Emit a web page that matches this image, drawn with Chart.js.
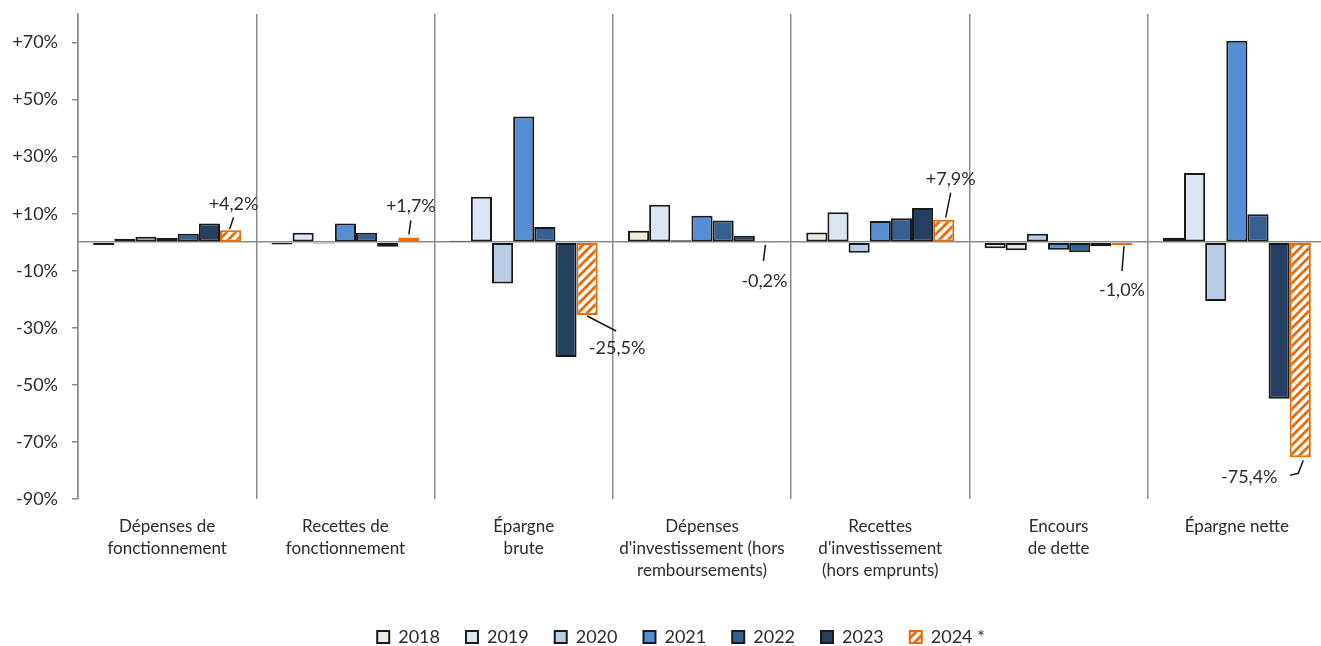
<!DOCTYPE html>
<html>
<head>
<meta charset="utf-8">
<script src="https://cdn.jsdelivr.net/npm/chart.js@4/dist/chart.umd.min.js"></script>
<style>
  html, body { margin: 0; padding: 0; background: #fff; overflow: hidden; }
  #wrap { width: 1321px; height: 646px; overflow: hidden; }
</style>
</head>
<body>
<div id="wrap"><canvas id="evoChart" width="1326" height="656"></canvas></div>
<script>
// categories and yearly changes (%)
var categories = [
    ['Dépenses de', 'fonctionnement'],
    ['Recettes de', 'fonctionnement'],
    ['Épargne', 'brute'],
    ['Dépenses', "d'investissement (hors", 'remboursements)'],
    ['Recettes', "d'investissement", '(hors emprunts)'],
    ['Encours', 'de dette'],
    ['Épargne nette']
];
var years = ['2018', '2019', '2020', '2021', '2022', '2023', '2024 *'];

var v2018 = [-1.0, -0.8, 0.5, 4.0, 3.4, -2.1, 1.6];
var v2019 = [1.2, 3.3, 15.9, 13.1, 10.5, -2.8, 24.3];
var v2020 = [1.9, -0.4, -14.5, 0.7, -3.7, 3.0, -20.6];
var v2021 = [1.5, 6.6, 44.1, 9.3, 7.4, -2.6, 70.6];
var v2022 = [3.0, 3.3, 5.3, 7.6, 8.4, -3.5, 9.8];
var v2023 = [6.6, -1.6, -40.2, 2.3, 12.0, -1.4, -54.9];
var v2024 = [4.2, 1.7, -25.5, -0.2, 7.9, -1.0, -75.4];

var yTicks = [-90, -70, -50, -30, -10, 0, 10, 30, 50, 70];

var textColor = '#2b2b2b';
var gridColor = '#8c8c8c';
var orange = '#E46C0A';

function hatch() {
    var n = 9;
    var c = document.createElement('canvas');
    c.width = n; c.height = n;
    var x = c.getContext('2d');
    x.fillStyle = '#ffffff';
    x.fillRect(0, 0, n, n);
    x.strokeStyle = orange;
    x.lineWidth = 2.8;
    x.beginPath();
    x.moveTo(-2, n + 2); x.lineTo(n + 2, -2);
    x.moveTo(-2, 2); x.lineTo(2, -2);
    x.moveTo(n - 2, n + 2); x.lineTo(n + 2, n - 2);
    x.stroke();
    return x.createPattern(c, 'repeat');
}

function fmt(v) {
    return (v > 0 ? '+' : '') + v.toFixed(1).replace('.', ',') + '%';
}

// leader lines + labels for the 2024 bars (offsets from bar end)
var labelPlugin = {
    id: 'labels2024',
    afterLayout: function (chart) {
        var lg = chart.legend;
        if (lg) { lg.left += 18; lg.right += 18; }
    },
    afterDatasetsDraw: function (chart, args, opts) {
        var ctx = chart.ctx;
        var meta = chart.getDatasetMeta(6);
        ctx.save();
        ctx.font = '18px Lato';
        ctx.fillStyle = textColor;
        ctx.strokeStyle = '#1a1a1a';
        ctx.lineWidth = 1.5;
        ctx.textAlign = 'center';
        ctx.textBaseline = 'middle';
        meta.data.forEach(function (bar, i) {
            var o = opts.spots[i];
            ctx.beginPath();
            o.line.forEach(function (p, k) {
                if (k === 0) ctx.moveTo(bar.x + p[0], bar.y + p[1]);
                else ctx.lineTo(bar.x + p[0], bar.y + p[1]);
            });
            ctx.stroke();
            ctx.fillText(fmt(v2024[i]), bar.x + o.text[0], bar.y + o.text[1]);
        });
        ctx.restore();
    }
};

function createChart() {
    var el = document.getElementById('evoChart').getContext('2d');
    var pat = hatch();

    var fills = ['#EEECE1', '#DCE6F2', '#B9CDE5', '#558ED5', '#376092', '#243F60', pat];
    var series = [v2018, v2019, v2020, v2021, v2022, v2023, v2024];

    var datasets = series.map(function (d, i) {
        return {
            label: years[i],
            data: d,
            backgroundColor: fills[i],
            borderColor: i === 6 ? orange : '#1a1a1a',
            borderWidth: 2,
            borderSkipped: false,
            categoryPercentage: 0.83,
            barPercentage: 1.0
        };
    });

    new Chart(el, {
        type: 'bar',
        data: { labels: categories, datasets: datasets },
        options: {
            responsive: false,
            animation: false,
            devicePixelRatio: 1,
            layout: { padding: { top: 14, right: 0, bottom: 0, left: 0 } },
            scales: {
                x: {
                    grid: { offset: true, color: gridColor, lineWidth: 1.5, drawTicks: false },
                    border: { display: false },
                    ticks: {
                        color: textColor,
                        font: { family: 'Lato', size: 17, lineHeight: 1.3 },
                        maxRotation: 0,
                        autoSkip: false,
                        padding: 16
                    },
                    afterFit: function (s) { s.height = 103; }
                },
                y: {
                    min: -90,
                    max: 80,
                    afterBuildTicks: function (s) {
                        s.ticks = yTicks.map(function (v) { return { value: v }; });
                    },
                    grid: {
                        color: function (c) { return c.tick && c.tick.value === 0 ? gridColor : 'rgba(0,0,0,0)'; },
                        tickColor: function (c) { return c.tick && c.tick.value === 0 ? 'rgba(0,0,0,0)' : gridColor; },
                        lineWidth: 1.5,
                        tickLength: 6
                    },
                    border: { display: true, color: gridColor, width: 1.5 },
                    ticks: {
                        color: textColor,
                        font: { family: 'Lato', size: 18 },
                        padding: 14,
                        callback: function (v) {
                            if (v === 0) return '';
                            return (v > 0 ? '+' : '') + v + '%';
                        }
                    },
                    afterFit: function (s) {
                        s.width = 78;
                        s.paddingTop = 0;
                        s.paddingBottom = 0;
                    }
                }
            },
            plugins: {
                legend: {
                    position: 'bottom',
                    labels: {
                        color: textColor,
                        font: { family: 'Lato', size: 18 },
                        boxWidth: 12,
                        boxHeight: 12,
                        padding: 26
                    }
                },
                tooltip: { enabled: false },
                labels2024: {
                    spots: [
                        { text: [3, -26], line: [[-1, -1], [3, -13]] },
                        { text: [2, -31], line: [[0, -3], [2, -17]] },
                        { text: [30, 33], line: [[0, 1], [29, 16]] },
                        { text: [-1, 38], line: [[0, 2], [-2, 18]] },
                        { text: [7, -41], line: [[2, -2], [7, -27]] },
                        { text: [0, 45], line: [[2, 1], [0, 26]] },
                        { text: [-51, 20], line: [[3, 3], [-2, 16], [-10, 18]] }
                    ]
                }
            }
        },
        plugins: [labelPlugin]
    });
}

createChart();
</script>
</body>
</html>
